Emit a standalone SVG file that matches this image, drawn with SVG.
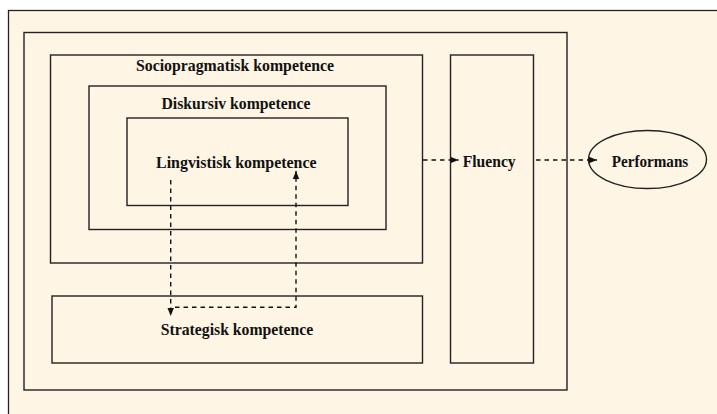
<svg xmlns="http://www.w3.org/2000/svg" width="717" height="414" viewBox="0 0 717 414">
  <defs>
    <style>
      .frame { fill: #FFF5E5; stroke: #222; stroke-width: 1.3; }
      .box { fill: none; stroke: #222; stroke-width: 1.4; }
      .lbl { font-family: "Liberation Serif", "Times New Roman", serif; font-weight: bold; font-size: 17px; fill: #111; text-anchor: middle; }
      .dash { fill: none; stroke: #111; stroke-width: 1.4; stroke-dasharray: 4.5 4; }
    </style>
    <marker id="arrow" viewBox="0 0 8 8" refX="8" refY="4" markerWidth="8" markerHeight="8" markerUnits="userSpaceOnUse" orient="auto">
      <path d="M0,0.8 L8,4 L0,7.2 Z" fill="#111"/>
    </marker>
  </defs>

  <rect width="717" height="414" fill="#ffffff"/>
  <rect class="frame" x="8.5" y="10.5" width="712" height="410"/>

  <g id="outer">
    <rect class="box" x="24" y="32.5" width="543" height="357.5"/>
  </g>

  <g id="sociopragmatisk">
    <rect class="box" x="50.5" y="55" width="372" height="208"/>
    <text class="lbl" x="235" y="71" textLength="198" lengthAdjust="spacingAndGlyphs">Sociopragmatisk kompetence</text>
  </g>

  <g id="diskursiv">
    <rect class="box" x="89" y="86" width="297" height="143.5"/>
    <text class="lbl" x="236" y="109" textLength="149" lengthAdjust="spacingAndGlyphs">Diskursiv kompetence</text>
  </g>

  <g id="lingvistisk">
    <rect class="box" x="127" y="118" width="221" height="87.5"/>
    <text class="lbl" x="236.3" y="167.5" textLength="160.5" lengthAdjust="spacingAndGlyphs">Lingvistisk kompetence</text>
  </g>

  <g id="strategisk">
    <rect class="box" x="52" y="296" width="370.5" height="67"/>
    <text class="lbl" x="237" y="335" textLength="152.5" lengthAdjust="spacingAndGlyphs">Strategisk kompetence</text>
  </g>

  <g id="fluency">
    <rect class="box" x="450.5" y="55" width="83" height="308"/>
    <text class="lbl" x="489.2" y="167" textLength="53" lengthAdjust="spacingAndGlyphs">Fluency</text>
  </g>

  <g id="performans">
    <ellipse class="box" cx="647.5" cy="159.5" rx="59" ry="29"/>
    <text class="lbl" x="650" y="167" textLength="76.5" lengthAdjust="spacingAndGlyphs">Performans</text>
  </g>

  <g id="connectors">
    <path class="dash" d="M170.7,180 V316" marker-end="url(#arrow)"/>
    <path class="dash" d="M175,307.3 H296 V171" marker-end="url(#arrow)"/>
    <path class="dash" d="M423,160 H458.5" marker-end="url(#arrow)"/>
    <path class="dash" d="M536,160 H597" marker-end="url(#arrow)"/>
  </g>
</svg>
